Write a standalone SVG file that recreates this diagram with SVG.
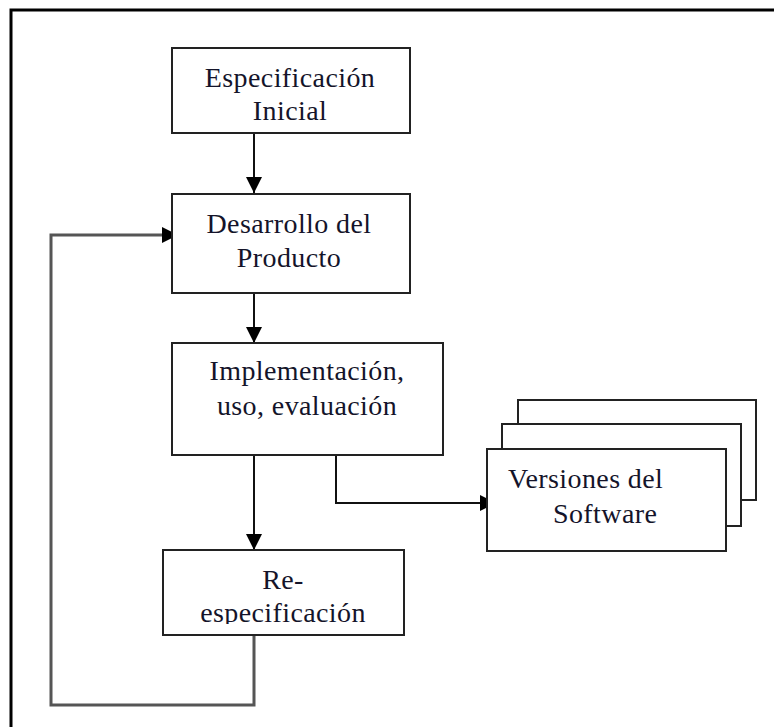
<svg xmlns="http://www.w3.org/2000/svg" width="774" height="727" viewBox="0 0 774 727">
  <style>
    .box { fill: #ffffff; stroke: #222222; stroke-width: 2; }
    .lbl { font-family: "Liberation Serif", "Times New Roman", serif; font-size: 28px; letter-spacing: 0.4px; fill: #14142a; }
    .mid { text-anchor: middle; }
    .wire { fill: none; stroke: #111111; stroke-width: 2; }
    .loop { fill: none; stroke: #555555; stroke-width: 3; }
    .frame { fill: none; stroke: #000000; stroke-width: 3; }
  </style>
  <defs>
    <marker id="head" markerUnits="userSpaceOnUse" markerWidth="17" markerHeight="17" refX="16" refY="8" orient="auto">
      <path d="M0,0 L16,8 L0,16 z" fill="#000000"/>
    </marker>
    <clipPath id="clipRe">
      <rect x="163" y="550" width="241" height="74"/>
    </clipPath>
  </defs>

  <rect width="774" height="727" fill="#ffffff"/>

  <!-- page frame: top and left rules only -->
  <path class="frame" d="M11,727 L11,10 L774,10"/>

  <g id="connectors">
    <line class="wire" x1="254" y1="133" x2="254" y2="193" marker-end="url(#head)"/>
    <line class="wire" x1="254" y1="293" x2="254" y2="343" marker-end="url(#head)"/>
    <line class="wire" x1="254" y1="456" x2="254" y2="550" marker-end="url(#head)"/>
    <polyline class="wire" points="336,456 336,503 496,503" marker-end="url(#head)"/>
    <polyline class="loop" points="254,635 254,705 51,705 51,235 178,235" marker-end="url(#head)"/>
  </g>

  <g id="especificacion-inicial">
    <rect class="box" x="172" y="48" width="238" height="85"/>
    <text class="lbl mid" x="290" y="87">Especificación</text>
    <text class="lbl mid" x="290" y="120">Inicial</text>
  </g>

  <g id="desarrollo-producto">
    <rect class="box" x="172" y="194" width="238" height="99"/>
    <text class="lbl mid" x="289" y="233">Desarrollo del</text>
    <text class="lbl mid" x="289" y="267">Producto</text>
  </g>

  <g id="implementacion">
    <rect class="box" x="172" y="343" width="271" height="112"/>
    <text class="lbl mid" x="307" y="380">Implementación,</text>
    <text class="lbl mid" x="307" y="415">uso, evaluación</text>
  </g>

  <g id="re-especificacion">
    <rect class="box" x="163" y="550" width="241" height="85"/>
    <g clip-path="url(#clipRe)">
      <text class="lbl mid" x="283" y="589">Re-</text>
      <text class="lbl mid" x="283" y="622">especificación</text>
    </g>
  </g>

  <g id="versiones-software">
    <rect class="box" x="518" y="400" width="238" height="100"/>
    <rect class="box" x="502" y="424" width="239" height="102"/>
    <rect class="box" x="487" y="449" width="239" height="102"/>
    <text class="lbl" x="508" y="488">Versiones del</text>
    <text class="lbl" x="553" y="523">Software</text>
  </g>
</svg>
